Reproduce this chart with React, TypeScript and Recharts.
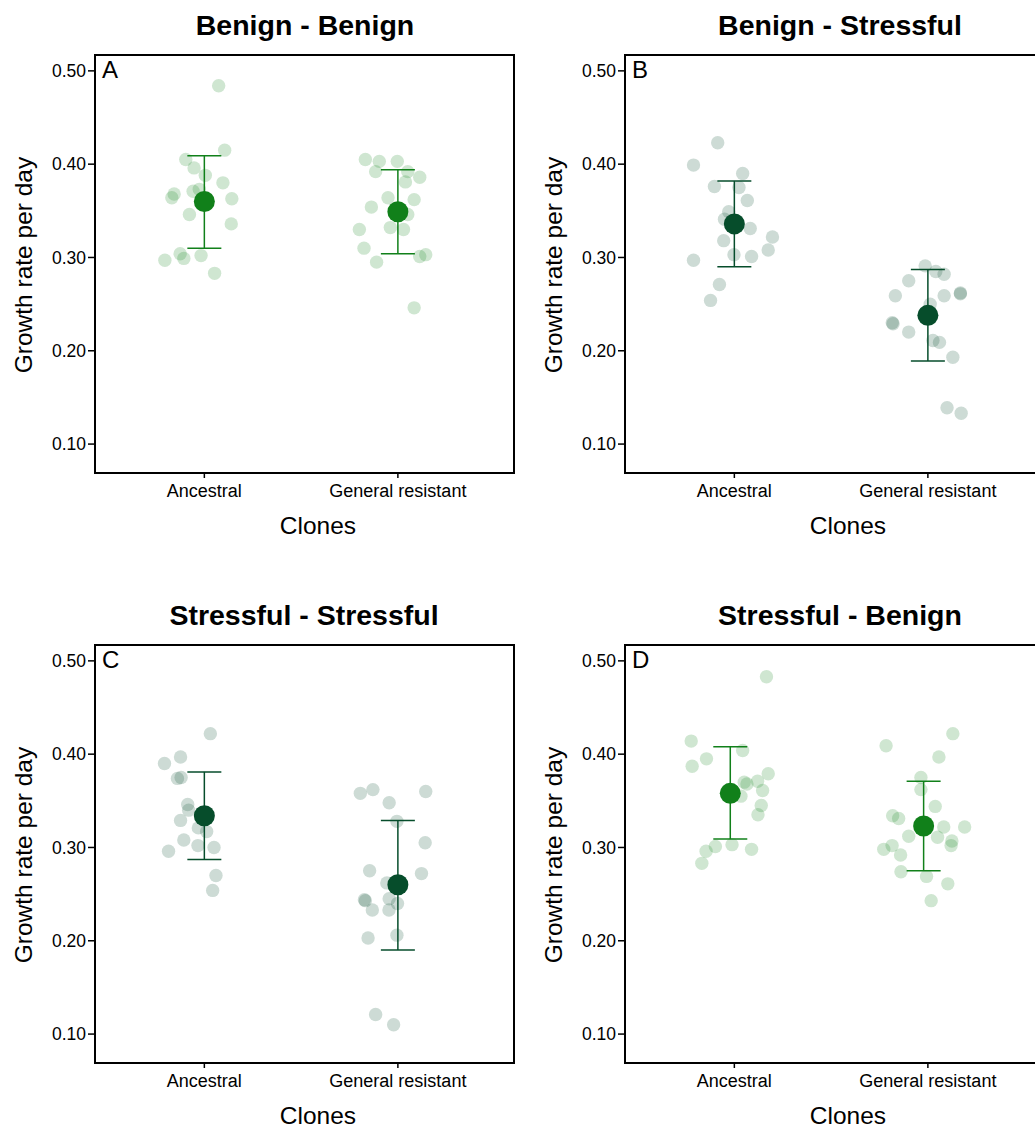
import React from 'react';
import { ScatterChart, Scatter, XAxis, YAxis, ErrorBar, ReferenceArea } from 'recharts';

const categories = ['Ancestral', 'General resistant'];
const yTicks = [0.1, 0.2, 0.3, 0.4, 0.5];
const titles = ['Benign - Benign', 'Benign - Stressful', 'Stressful - Stressful', 'Stressful - Benign'];
const letters = ['A', 'B', 'C', 'D'];

// [jittered x position, growth rate per day]
const bbAncestral = [[1.074,0.484],[1.105,0.415],[0.904,0.405],[0.947,0.396],[1.005,0.388],[1.096,0.380],[0.844,0.368],[0.832,0.364],[0.942,0.371],[0.974,0.373],[1.142,0.363],[0.923,0.346],[1.139,0.336],[0.875,0.304],[0.894,0.299],[0.796,0.297],[0.983,0.302],[1.053,0.283]];
const bbResistant = [[1.832,0.405],[1.904,0.403],[1.997,0.403],[1.885,0.392],[2.051,0.392],[2.113,0.386],[2.039,0.381],[1.949,0.364],[2.084,0.362],[1.863,0.354],[2.051,0.346],[1.961,0.332],[2.029,0.330],[1.801,0.330],[1.825,0.310],[2.113,0.301],[2.144,0.303],[1.890,0.295],[2.084,0.246]];
const bbMeans = [[1, 0.360, 0.310, 0.409], [2, 0.349, 0.304, 0.394]];

const bsAncestral = [[0.914,0.423],[0.789,0.399],[1.043,0.390],[0.897,0.376],[1.024,0.375],[1.067,0.361],[0.971,0.349],[0.949,0.341],[1.082,0.331],[0.945,0.318],[1.197,0.322],[1.175,0.308],[0.998,0.303],[1.089,0.301],[0.789,0.297],[0.923,0.271],[0.877,0.254]];
const bsResistant = [[1.986,0.291],[2.041,0.285],[2.084,0.282],[1.901,0.275],[1.832,0.259],[2.084,0.259],[2.168,0.262],[2.168,0.261],[2.012,0.250],[1.816,0.230],[1.820,0.229],[1.901,0.220],[2.026,0.211],[2.060,0.209],[2.129,0.193],[2.099,0.139],[2.172,0.133]];
const bsMeans = [[1, 0.336, 0.290, 0.382], [2, 0.238, 0.189, 0.287]];

const ssAncestral = [[1.031,0.422],[0.877,0.397],[0.794,0.390],[0.861,0.374],[0.880,0.375],[0.914,0.346],[0.919,0.340],[0.877,0.329],[0.969,0.321],[1.012,0.317],[0.894,0.308],[0.967,0.302],[1.050,0.300],[0.815,0.296],[1.060,0.270],[1.043,0.254]];
const ssResistant = [[1.871,0.362],[1.806,0.358],[2.144,0.360],[1.955,0.348],[1.995,0.328],[2.141,0.305],[1.854,0.275],[2.122,0.272],[1.943,0.262],[1.827,0.244],[1.832,0.243],[1.955,0.245],[1.998,0.240],[1.868,0.233],[1.954,0.233],[1.995,0.206],[1.846,0.203],[1.885,0.121],[1.978,0.110]];
const ssMeans = [[1, 0.334, 0.287, 0.381], [2, 0.260, 0.190, 0.329]];

const sbAncestral = [[1.166,0.483],[0.777,0.414],[1.043,0.404],[0.856,0.395],[0.782,0.387],[1.175,0.379],[1.051,0.370],[1.120,0.371],[1.065,0.368],[1.146,0.361],[1.034,0.355],[1.139,0.345],[1.122,0.335],[0.902,0.301],[0.854,0.296],[0.988,0.303],[1.089,0.298],[0.832,0.283]];
const sbResistant = [[2.129,0.422],[1.784,0.409],[2.057,0.397],[1.964,0.375],[1.964,0.362],[2.038,0.344],[1.818,0.334],[1.849,0.331],[2.082,0.322],[2.190,0.322],[1.901,0.312],[2.050,0.311],[2.124,0.307],[2.120,0.302],[1.815,0.302],[1.772,0.298],[1.859,0.292],[1.861,0.274],[1.993,0.269],[2.103,0.261],[2.017,0.243]];
const sbMeans = [[0.979, 0.358, 0.309, 0.408], [1.978, 0.323, 0.275, 0.371]];

const GREEN = '#11801a';
const DARK = '#064d2b';
const FONT = '"Liberation Sans", Arial, Helvetica, sans-serif';
const X_DOMAIN = [0.435, 2.6];
const Y_DOMAIN = [0.069, 0.517];

const toPts = (arr) => arr.map(([x, y]) => ({ x, y }));
const toMeans = (arr) => arr.map(([x, m, lo, hi]) => ({ x, y: m, err: [m - lo, hi - m] }));

const panels = [
  { left: 0, top: 0, anc: bbAncestral, gr: bbResistant, means: bbMeans, color: GREEN, titleX: 305 },
  { left: 530, top: 0, anc: bsAncestral, gr: bsResistant, means: bsMeans, color: DARK, titleX: 310 },
  { left: 0, top: 590, anc: ssAncestral, gr: ssResistant, means: ssMeans, color: DARK, titleX: 304 },
  { left: 530, top: 590, anc: sbAncestral, gr: sbResistant, means: sbMeans, color: GREEN, titleX: 310 },
];

function Panel({ p, i }) {
  const light = (props) => (
    <circle cx={props.cx} cy={props.cy} r={6.7} fill={p.color} fillOpacity={0.2} />
  );
  const big = (props) => <circle cx={props.cx} cy={props.cy} r={10.5} fill={p.color} />;
  return (
    <div style={{ position: 'absolute', left: p.left, top: p.top, width: 530, height: 590 }}>
      <ScatterChart width={530} height={590} margin={{ top: 55, right: 16, bottom: 57, left: 0 }}>
        <XAxis
          type="number"
          dataKey="x"
          domain={X_DOMAIN}
          allowDataOverflow
          ticks={[1, 2]}
          interval={0}
          tickFormatter={(v) => categories[Math.round(v) - 1]}
          height={60}
          axisLine={false}
          tickSize={5}
          tickMargin={6}
          tickLine={{ stroke: '#000', strokeWidth: 1.5 }}
          tick={{ fill: '#000', fontSize: 18, fontFamily: FONT }}
        />
        <YAxis
          type="number"
          dataKey="y"
          domain={Y_DOMAIN}
          allowDataOverflow
          ticks={yTicks}
          interval={0}
          tickFormatter={(v) => v.toFixed(2)}
          width={95}
          axisLine={false}
          tickSize={7}
          tickMargin={2}
          tickLine={{ stroke: '#000', strokeWidth: 1.5 }}
          tick={{ fill: '#000', fontSize: 17.5, fontFamily: FONT }}
        />
        <ReferenceArea
          x1={X_DOMAIN[0]}
          x2={X_DOMAIN[1]}
          y1={Y_DOMAIN[0]}
          y2={Y_DOMAIN[1]}
          fill="none"
          stroke="#000"
          strokeWidth={2}
          ifOverflow="visible"
        />
        <Scatter data={toPts(p.anc)} shape={light} isAnimationActive={false} />
        <Scatter data={toPts(p.gr)} shape={light} isAnimationActive={false} />
        <Scatter data={toMeans(p.means)} shape={big} isAnimationActive={false}>
          <ErrorBar dataKey="err" direction="y" width={17} stroke={p.color} strokeWidth={1.5} />
        </Scatter>
      </ScatterChart>
      <svg width={530} height={590} style={{ position: 'absolute', left: 0, top: 0, pointerEvents: 'none' }}>
        <text x={p.titleX} y={35} textAnchor="middle" fontFamily={FONT} fontWeight="bold" fontSize={28.5} fill="#000">
          {titles[i]}
        </text>
        <text x={102} y={78} fontFamily={FONT} fontSize={24} fill="#000">
          {letters[i]}
        </text>
        <text
          transform="translate(23,265) rotate(-90)"
          textAnchor="middle"
          dominantBaseline="central"
          fontFamily={FONT}
          fontSize={24.5}
          fill="#000"
        >
          Growth rate per day
        </text>
        <text x={318} y={534} textAnchor="middle" fontFamily={FONT} fontSize={24.5} fill="#000">
          Clones
        </text>
      </svg>
    </div>
  );
}

export default function App() {
  return (
    <div
      style={{
        position: 'absolute',
        left: 0,
        top: 0,
        width: 1035,
        height: 1129,
        overflow: 'hidden',
        background: '#fff',
      }}
    >
      {panels.map((p, i) => (
        <Panel key={i} p={p} i={i} />
      ))}
    </div>
  );
}
